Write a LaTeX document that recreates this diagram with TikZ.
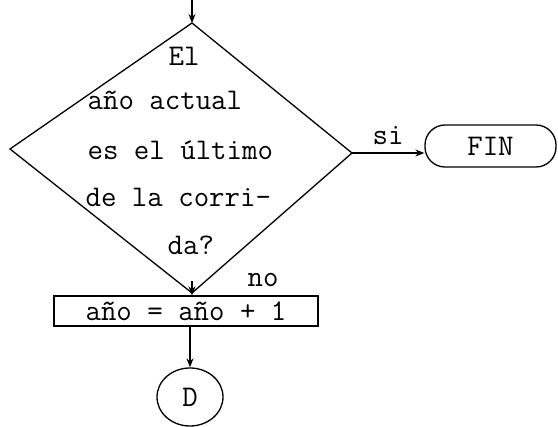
\documentclass[tikz,border=0pt]{standalone}
\usepackage{fontspec}
\usetikzlibrary{arrows.meta,shapes.geometric}
\begin{document}
\begin{tikzpicture}[x=1pt,y=-1pt,line width=1.3pt,
  txt/.style={font=\fontsize{30}{30}\selectfont\ttfamily,inner sep=0pt},
  conn/.style={-{Stealth[length=9pt,width=7pt]}},
  boxed/.style={draw,txt,inner sep=0pt}]
\useasboundingbox (0,0) rectangle (558,427);
% decision diamond
\coordinate (in) at (192,0);
\coordinate (dt) at (192,23);
\coordinate (dl) at (10,149);
\coordinate (dr) at (352,153);
\coordinate (db) at (192,293);
\draw (dt) -- (dl) -- (db) -- (dr) -- cycle;
\node[txt,anchor=base west] (l1) at (168,66) {El};
\node[txt,anchor=base west] (l2) at (87,110) {año actual};
\node[txt,anchor=base west] (l3) at (87,160) {es el último};
\node[txt,anchor=base west] (l4) at (85,207) {de la corri-};
\node[txt,anchor=base west] (l5) at (167,255) {da?};
% other nodes
\node[boxed,rounded corners=20pt,minimum width=131pt,minimum height=42pt] (fin) at (490.5,146) {FIN};
\node[boxed,minimum width=264pt,minimum height=30pt] (box) at (186,311) {año = año + 1};
\node[boxed,ellipse,minimum width=66pt,minimum height=58pt] (d) at (190,397) {D};
% labels
\node[txt,anchor=base west] (si) at (372,145) {si};
\node[txt,anchor=base west] (no) at (247,287) {no};
% connectors
\draw[conn] (in) -- (dt);
\draw[conn] (dr) -- (dr -| fin.west);
\draw[conn] (db) ++(0,-12) -- (db |- box.north);
\draw[conn] (d.north |- box.south) -- (d.north);
\end{tikzpicture}
\end{document}
